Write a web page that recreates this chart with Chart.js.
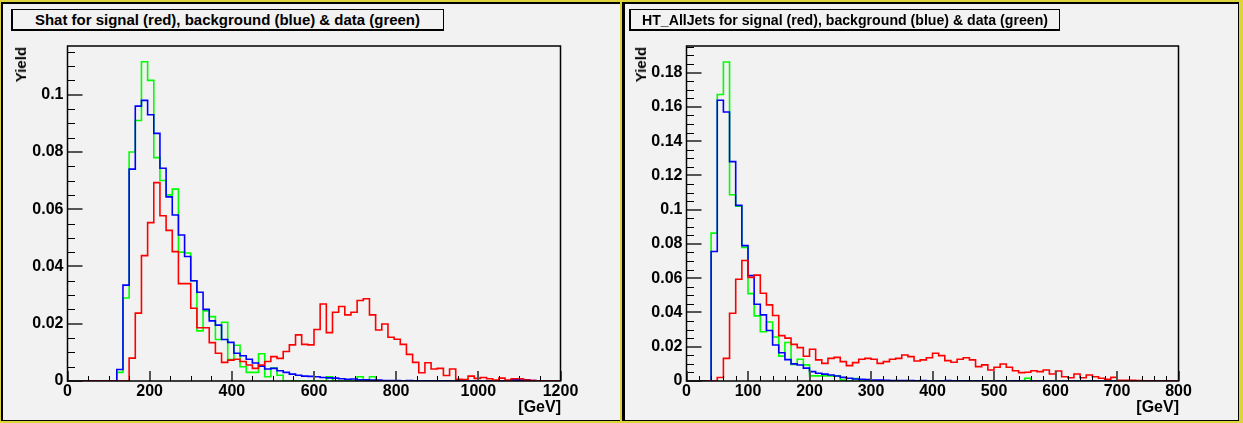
<!DOCTYPE html>
<html>
<head>
<meta charset="utf-8">
<script src="https://cdn.jsdelivr.net/npm/chart.js@4.4.0/dist/chart.umd.min.js"></script>
<style>
  html, body { margin: 0; padding: 0; }
  body { width: 1243px; height: 423px; position: relative; overflow: hidden; background: #dcd43a;
         font-family: "Liberation Sans", Arial, Helvetica, sans-serif; }
  .pad { position: absolute; background: #f2f2f2; box-sizing: border-box; }
  #pad1 { left: 1px; top: 2px; width: 619px; height: 419px; border-left: 2px solid #000; border-top: 2px solid #000; border-bottom: 1px solid #000; }
  #pad2 { left: 622px; top: 2px; width: 617px; height: 419px; border: 1px solid #000; border-left-width: 3px; border-top-width: 2px; }
  canvas { position: absolute; top: 0; }
  .title { position: absolute; top: 9px; height: 22px; box-sizing: border-box; background: #f2f2f2;
           border: 1px solid #000; border-left-width: 2px; border-bottom-width: 2px; overflow: hidden; }
  .title span { position: absolute; top: 0; font: bold 15px/19px "Liberation Sans", Arial, sans-serif;
                white-space: nowrap; transform-origin: 0 50%; }
  .ylab { position: absolute; bottom: 341px; font: bold 15px/15px "Liberation Sans", Arial, sans-serif;
          white-space: nowrap; writing-mode: vertical-rl; transform: rotate(180deg); }
  .xlab { position: absolute; font: bold 16px/16px "Liberation Sans", Arial, sans-serif; white-space: nowrap; }
</style>
</head>
<body>
<div class="pad" id="pad1"></div>
<div class="pad" id="pad2"></div>
<canvas id="shat" width="620" height="423" style="left:0px"></canvas>
<canvas id="ht" width="623" height="423" style="left:620px"></canvas>
<div class="title" style="left:11px; width:433px;"><span style="left:22px" data-w="385">Shat for signal (red), background (blue) &amp; data (green)</span></div>
<div class="title" style="left:629px; width:431px;"><span style="left:11px" data-w="406">HT_AllJets for signal (red), background (blue) &amp; data (green)</span></div>
<div class="ylab" style="left:13px;">Yield</div>
<div class="ylab" style="left:633px;">Yield</div>
<div class="xlab" style="right:682px; top:399px;">[GeV]</div>
<div class="xlab" style="right:64px; top:399px;">[GeV]</div>
<script>
// Shat: 80 bins of 15 GeV from 0 to 1200
const shatBins = { lo: 0, width: 15 };
const shatXTicks = [0, 200, 400, 600, 800, 1000, 1200];
const shatYTicks = [0, 0.02, 0.04, 0.06, 0.08, 0.1];
const shatYMax = 0.117;

const shatRed = [
  0, 0, 0, 0, 0, 0, 0, 0, 0, 0,
  0.008, 0.0237, 0.0438, 0.0553, 0.0693, 0.0577, 0.0526, 0.0452, 0.034, 0.034,
  0.0254, 0.0186, 0.0186, 0.0134, 0.0097, 0.0065, 0.0073, 0.0076, 0.0068, 0.0056,
  0.0044, 0.0056, 0.0068, 0.0085, 0.0079, 0.0103, 0.0126, 0.0161, 0.0128, 0.0126,
  0.018, 0.0269, 0.0169, 0.024, 0.026, 0.0231, 0.024, 0.0281, 0.0287, 0.0231,
  0.0178, 0.0199, 0.0153, 0.0146, 0.0128, 0.0093, 0.0065, 0.0029, 0.0064, 0.0042,
  0.0044, 0.0019, 0.0042, 0.0006, 0.0005, 0.0017, 0.0009, 0.0012, 0.0008, 0.0003,
  0.001, 0.0003, 0.0008, 0.0008, 0.0003, 0.0002, 0.0001, 0, 0, 0
];
const shatBlue = [
  0, 0, 0, 0, 0, 0, 0, 0, 0.004, 0.0335,
  0.074, 0.096, 0.098, 0.093, 0.0865, 0.0743, 0.0643, 0.058, 0.051, 0.0435,
  0.035, 0.031, 0.025, 0.021, 0.0195, 0.0145, 0.0135, 0.0097, 0.0088, 0.0076,
  0.0063, 0.0052, 0.0042, 0.0044, 0.0036, 0.003, 0.0024, 0.002, 0.0017, 0.0016,
  0.0015, 0.0012, 0.0011, 0.001, 0.0008, 0.0006, 0.0007, 0.0004, 0.0004, 0.0003,
  0.0003, 0.0002, 0.0002, 0.0002, 0.0001, 0.0002, 0.0001, 0.0001, 0.0001, 0.0001,
  0.0001, 0.0001, 0, 0.0001, 0.0001, 0, 0.0001, 0, 0.0001, 0,
  0.0001, 0.0001, 0.0004, 0.0003, 0.0004, 0.0002, 0, 0, 0, 0
];
const shatGreen = [
  0, 0, 0, 0, 0, 0, 0, 0, 0.003, 0.029,
  0.08, 0.091, 0.1115, 0.105, 0.078, 0.07, 0.065, 0.067, 0.045, 0.0447,
  0.035, 0.0175, 0.0245, 0.0225, 0.0145, 0.0205, 0.0075, 0.0125, 0.005, 0.003,
  0.003, 0.0095, 0.0015, 0.0045, 0.002, 0, 0, 0, 0, 0,
  0, 0, 0.0015, 0, 0, 0, 0, 0.0015, 0, 0.0015,
  0, 0, 0, 0, 0, 0, 0, 0, 0, 0,
  0, 0, 0, 0, 0, 0, 0, 0, 0, 0,
  0, 0, 0, 0, 0, 0, 0, 0, 0, 0
];

// HT_AllJets: 80 bins of 10 GeV from 0 to 800
const htBins = { lo: 0, width: 10 };
const htXTicks = [0, 100, 200, 300, 400, 500, 600, 700, 800];
const htYTicks = [0, 0.02, 0.04, 0.06, 0.08, 0.1, 0.12, 0.14, 0.16, 0.18];
const htYMax = 0.1955;

const htRed = [
  0, 0, 0, 0, 0, 0.002, 0.0132, 0.0395, 0.0594, 0.0703,
  0.0605, 0.0618, 0.0512, 0.0444, 0.0382, 0.0265, 0.025, 0.0214, 0.0195, 0.0144,
  0.0185, 0.0123, 0.0103, 0.0132, 0.0138, 0.0113, 0.009, 0.0107, 0.0127, 0.0132,
  0.0127, 0.0103, 0.0113, 0.0127, 0.0132, 0.0152, 0.0142, 0.0117, 0.0123, 0.0136,
  0.0162, 0.0148, 0.0119, 0.0109, 0.0127, 0.0136, 0.0123, 0.0084, 0.0094, 0.0064,
  0.008, 0.0099, 0.008, 0.006, 0.0049, 0.0051, 0.006, 0.0055, 0.0064, 0.0041,
  0.0058, 0.0025, 0.0019, 0.0041, 0.0019, 0.0035, 0.0025, 0.0016, 0.001, 0.0021,
  0.0004, 0.0004, 0.0004, 0.0002, 0.0001, 0, 0, 0, 0, 0
];
const htBlue = [
  0, 0, 0, 0, 0.0756, 0.1638, 0.157, 0.128, 0.1025, 0.079,
  0.0615, 0.0448, 0.0386, 0.0295, 0.021, 0.0165, 0.0125, 0.01, 0.0093, 0.0075,
  0.0055, 0.0045, 0.004, 0.0035, 0.0029, 0.0021, 0.0016, 0.0012, 0.001, 0.0008,
  0.0006, 0.0005, 0.0004, 0.0003, 0.0002, 0.0002, 0.0002, 0.0001, 0.0002, 0.0001,
  0.0001, 0.0001, 0.0002, 0.0001, 0.0001, 0.0001, 0, 0.0001, 0, 0,
  0.0001, 0, 0, 0.0001, 0, 0, 0, 0, 0, 0,
  0, 0, 0, 0, 0, 0, 0, 0, 0, 0,
  0, 0, 0, 0.0001, 0, 0, 0, 0, 0, 0
];
const htGreen = [
  0, 0, 0, 0, 0.0863, 0.1672, 0.1862, 0.1087, 0.102, 0.078,
  0.051, 0.038, 0.0287, 0.0344, 0.0257, 0.0145, 0.0225, 0.0097, 0.0127, 0.0094,
  0.003, 0.003, 0.003, 0.003, 0.003, 0.0005, 0, 0.0015, 0, 0,
  0, 0, 0, 0, 0, 0, 0, 0, 0, 0,
  0, 0, 0, 0, 0, 0, 0, 0, 0, 0,
  0, 0, 0, 0, 0, 0.0016, 0, 0, 0, 0,
  0, 0, 0, 0, 0, 0, 0, 0, 0, 0,
  0, 0, 0, 0, 0, 0, 0, 0, 0, 0
];

Chart.defaults.font.family = '"Liberation Sans", Arial, Helvetica, sans-serif';

// ROOT style frame: box around the plot, ticks pointing inwards
const rootFrame = {
  id: 'rootFrame',
  afterDatasetsDraw(chart, args, opts) {
    const { ctx, chartArea: a } = chart;
    const x = chart.scales.x, y = chart.scales.y;
    ctx.save();
    ctx.strokeStyle = '#000';
    ctx.lineWidth = 1;
    ctx.beginPath();
    const ny = Math.floor(y.max / opts.yMinor + 1e-6);
    for (let k = 0; k <= ny; k++) {
      const py = Math.round(y.getPixelForValue(k * opts.yMinor)) + 0.5;
      ctx.moveTo(a.left, py); ctx.lineTo(a.left + 7.5, py);
    }
    const nx = Math.round((x.max - x.min) / opts.xMinor);
    for (let k = 0; k <= nx; k++) {
      const px = Math.round(x.getPixelForValue(x.min + k * opts.xMinor)) + 0.5;
      ctx.moveTo(px, a.bottom); ctx.lineTo(px, a.bottom - 5);
    }
    ctx.stroke();

    ctx.strokeStyle = '#555';
    ctx.lineWidth = 2;
    ctx.beginPath();
    y.ticks.forEach(t => {
      const py = Math.round(y.getPixelForValue(t.value));
      ctx.moveTo(a.left, py); ctx.lineTo(a.left + 15, py);
    });
    x.ticks.forEach(t => {
      const px = Math.round(x.getPixelForValue(t.value));
      ctx.moveTo(px, a.bottom); ctx.lineTo(px, a.bottom - 10);
    });
    ctx.stroke();

    ctx.strokeStyle = '#000';
    ctx.lineWidth = 1.5;
    ctx.strokeRect(a.left, a.top, a.right - a.left, a.bottom - a.top);
    ctx.restore();
  }
};

function histPoints(bins, values) {
  const pts = values.map((v, i) => ({ x: bins.lo + i * bins.width, y: v }));
  pts.push({ x: bins.lo + values.length * bins.width, y: values[values.length - 1] });
  return pts;
}

function histSet(label, bins, values, color) {
  return {
    label: label,
    data: histPoints(bins, values),
    borderColor: color,
    borderWidth: 1.6,
    stepped: true,
    pointRadius: 0,
    fill: false
  };
}

function drawHist(canvasId, bins, red, blue, green, xTicks, yTicks, yMax, minor, pad) {
  const tickFont = { size: 16, weight: 'bold' };
  return new Chart(document.getElementById(canvasId), {
    type: 'line',
    data: {
      datasets: [
        histSet('signal', bins, red, '#ff0000'),
        histSet('background', bins, blue, '#0000ff'),
        histSet('data', bins, green, '#00ff00')
      ]
    },
    options: {
      responsive: false,
      animation: false,
      devicePixelRatio: 1,
      layout: { padding: pad },
      plugins: {
        legend: { display: false },
        tooltip: { enabled: false },
        rootFrame: minor
      },
      scales: {
        x: {
          type: 'linear',
          min: xTicks[0],
          max: xTicks[xTicks.length - 1],
          grid: { display: false, drawTicks: false },
          border: { display: false },
          afterBuildTicks: s => { s.ticks = xTicks.map(v => ({ value: v })); },
          afterFit: s => { s.height = 42; },
          ticks: { padding: 1, maxRotation: 0, autoSkip: false, color: '#000', font: tickFont,
                   callback: v => String(v) }
        },
        y: {
          type: 'linear',
          min: 0,
          max: yMax,
          grid: { display: false, drawTicks: false },
          border: { display: false },
          afterBuildTicks: s => { s.ticks = yTicks.map(v => ({ value: v })); },
          afterFit: s => { s.width = 50; },
          ticks: { padding: 4, autoSkip: false, color: '#000', font: tickFont,
                   callback: v => String(v) }
        }
      }
    },
    plugins: [rootFrame]
  });
}

drawHist('shat', shatBins, shatRed, shatBlue, shatGreen, shatXTicks, shatYTicks, shatYMax,
         { xMinor: 50, yMinor: 0.005 }, { left: 17.5, right: 59.5, top: 46, bottom: 0 });
drawHist('ht', htBins, htRed, htBlue, htGreen, htXTicks, htYTicks, htYMax,
         { xMinor: 20, yMinor: 0.005 }, { left: 16.5, right: 64.5, top: 46, bottom: 0 });

// stretch the pave titles to the width they have in the original picture
document.querySelectorAll('.title span').forEach(s => {
  const w = s.getBoundingClientRect().width;
  s.style.transform = 'scaleX(' + (Number(s.dataset.w) / w) + ')';
});
</script>
</body>
</html>
